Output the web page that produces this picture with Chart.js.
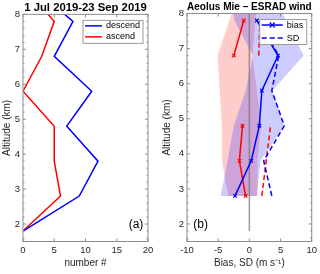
<!DOCTYPE html>
<html>
<head>
<meta charset="utf-8">
<script src="https://cdn.jsdelivr.net/npm/chart.js@4.4.1/dist/chart.umd.min.js"></script>
<style>
html, body { margin: 0; padding: 0; background: #fff; }
#wrap { position: relative; width: 320px; height: 274px; }
.panel { position: absolute; top: 0; width: 160px; height: 274px; }
</style>
</head>
<body>
<div id="wrap">
  <div class="panel" style="left:0"><canvas id="countChart" width="160" height="274"></canvas></div>
  <div class="panel" style="left:160px"><canvas id="biasChart" width="160" height="274"></canvas></div>
</div>
<script>
// panel (a): number of matches per altitude bin
const altitudes = [1.8, 2.8, 3.8, 4.8, 5.8, 6.8, 7.8, 8.8];
const descendCounts = [0, 9, 12, 7, 11, 5, 8, 1.3];
const ascendCounts = [0, 6, 5, 5, 0, 3, 5, 0];

// panel (b): bias and SD profiles
const profileAlt = [2.8, 3.8, 4.8, 5.8, 6.8, 7.8];
const descBias = [-2.3, 0.3, 1.6, 2.0, 4.6, 1.2];
const descSD = [3.6, 2.3, 5.6, 3.6, 4.7, 1.4];
const ascBias = [-0.6, -1.6, -1.1, null, -2.5, -0.9];
const ascSD = [2.0, 2.7, 3.4, null, 1.5, 1.7];

// shaded spread around the bias
const bandAlt = [2.8, 3.8, 4.8, 5.8, 6.8, 7.8, 8.8];
const descLow = [-4.6, -3.5, -2.5, -0.6, 0.6, -2.4, -3.0];
const descHigh = [1.2, 1.8, 5.6, 3.7, 8.7, 5.9, 3.0];
const ascLow = [-3.4, -4.4, -4.4, null, -5.1, -3.2, -1.3];
const ascHigh = [1.3, 1.3, 1.9, null, 0.5, 1.0, 1.5];

const zeroAlt = [1.8, 8.8];
const zeroVal = [0, 0];

const altTicks = [2, 3, 4, 5, 6, 7, 8];
const countTicks = [0, 5, 10, 15, 20];
const biasTicks = [-10, -5, 0, 5, 10];

Chart.defaults.font.family = "'Liberation Sans', Arial, sans-serif";
Chart.defaults.color = '#262626';

const toPoints = (xs, ys) => xs.map((v, i) => ({ x: v, y: ys[i] }));

const bandPoints = (lo, hi, ys) => {
    const pts = [];
    ys.forEach((y, i) => { if (lo[i] !== null) pts.push({ x: lo[i], y: y }); });
    for (let i = ys.length - 1; i >= 0; i--) {
        if (hi[i] !== null) pts.push({ x: hi[i], y: ys[i] });
    }
    return pts;
};

const makeScales = (xMin, xMax, xTicks, xTitle, yWidth) => ({
    x: {
        type: 'linear', min: xMin, max: xMax,
        afterBuildTicks: s => { s.ticks = xTicks.map(v => ({ value: v })); },
        afterFit: s => { s.height = 32.5; },
        grid: { display: false, drawTicks: false },
        border: { display: false },
        ticks: { padding: 3, maxRotation: 0, font: { size: 9.5 } },
        title: { display: true, text: xTitle, font: { size: 10 }, padding: { top: 0, bottom: 5 } }
    },
    y: {
        type: 'linear', min: 1.5, max: 8,
        afterBuildTicks: s => { s.ticks = altTicks.map(v => ({ value: v })); },
        afterFit: s => { s.width = yWidth; },
        grid: { display: false, drawTicks: false },
        border: { display: false },
        ticks: { padding: 3, font: { size: 9.5 } },
        title: { display: true, text: 'Altitude (km)', font: { size: 10 }, padding: { top: 1, bottom: 0 } }
    }
});

// box round the axes with inward ticks
const frameTicks = {
    id: 'frameTicks',
    afterDatasetsDraw(chart, args, opts) {
        const { ctx, chartArea: a, scales: { x, y } } = chart;
        ctx.save();
        ctx.strokeStyle = '#8c8c8c';
        ctx.lineWidth = 1;
        ctx.strokeRect(a.left, a.top, a.width, a.height);
        ctx.beginPath();
        opts.xTicks.forEach(v => {
            const px = x.getPixelForValue(v);
            ctx.moveTo(px, a.bottom); ctx.lineTo(px, a.bottom - 3);
            ctx.moveTo(px, a.top); ctx.lineTo(px, a.top + 3);
        });
        for (let k = 8; k <= 40; k++) {
            const py = y.getPixelForValue(k / 5);
            const len = k % 5 === 0 ? 3 : 1.5;
            ctx.moveTo(a.left, py); ctx.lineTo(a.left + len, py);
            ctx.moveTo(a.right, py); ctx.lineTo(a.right - len, py);
        }
        ctx.stroke();
        ctx.restore();
    }
};

// legend box inside the axes and the panel letter
const insideLegend = {
    id: 'insideLegend',
    afterDraw(chart, args, opts) {
        const { ctx, chartArea: a } = chart;
        ctx.save();
        const bx = a.right - 5 - opts.width;
        const by = a.top + 6;
        ctx.fillStyle = '#fff';
        ctx.fillRect(bx, by, opts.width, opts.height);
        ctx.strokeStyle = '#9a9a9a';
        ctx.lineWidth = 1;
        ctx.strokeRect(bx, by, opts.width, opts.height);
        opts.items.forEach((item, i) => {
            const ds = chart.data.datasets[item.index];
            const ly = by + opts.rowTop + i * opts.rowGap;
            ctx.strokeStyle = ds.borderColor;
            ctx.lineWidth = ds.borderWidth;
            ctx.setLineDash(ds.borderDash || []);
            ctx.beginPath();
            ctx.moveTo(bx + 2, ly);
            ctx.lineTo(bx + 2 + opts.lineLen, ly);
            ctx.stroke();
            ctx.setLineDash([]);
            if (ds.pointRadius > 0) {
                const mx = bx + 2 + opts.lineLen / 2;
                ctx.lineWidth = 1.2;
                ctx.beginPath();
                ctx.moveTo(mx - 2.5, ly - 2.5); ctx.lineTo(mx + 2.5, ly + 2.5);
                ctx.moveTo(mx - 2.5, ly + 2.5); ctx.lineTo(mx + 2.5, ly - 2.5);
                ctx.stroke();
            }
            ctx.fillStyle = '#000';
            ctx.font = "9px 'Liberation Sans', Arial, sans-serif";
            ctx.textBaseline = 'middle';
            ctx.textAlign = 'left';
            ctx.fillText(ds.label, bx + opts.lineLen + 6, ly);
        });
        ctx.font = "12px 'Liberation Sans', Arial, sans-serif";
        ctx.fillStyle = '#000';
        ctx.textAlign = 'center';
        ctx.textBaseline = 'middle';
        const tx = opts.tag.fromLeft ? a.left + opts.tag.dx : a.right - opts.tag.dx;
        ctx.fillText(opts.tag.text, tx, a.bottom - 16.5);
        ctx.restore();
    }
};

const lineSet = (label, data, color, extra) => Object.assign({
    label: label,
    data: data,
    borderColor: color,
    backgroundColor: color,
    borderWidth: 1.5,
    pointRadius: 0,
    fill: false,
    tension: 0
}, extra || {});

new Chart(document.getElementById('countChart'), {
    type: 'line',
    data: {
        datasets: [
            lineSet('descend', toPoints(descendCounts, altitudes), '#0000ff'),
            lineSet('ascend', toPoints(ascendCounts, altitudes), '#ff0000')
        ]
    },
    options: {
        responsive: false,
        animation: false,
        layout: { padding: { left: 0, right: 12, top: 0.8, bottom: 0 } },
        scales: makeScales(0, 20, countTicks, 'number #', 23),
        plugins: {
            legend: { display: false },
            tooltip: { enabled: false },
            title: {
                display: true, text: '1 Jul 2019-23 Sep 2019', fullSize: false,
                color: '#000', font: { size: 11.3, weight: 'bold' }, padding: 0
            },
            frameTicks: { xTicks: countTicks },
            insideLegend: {
                width: 60, height: 23, rowTop: 5.5, rowGap: 11, lineLen: 17,
                items: [{ index: 0 }, { index: 1 }],
                tag: { text: '(a)', fromLeft: false, dx: 12 }
            }
        }
    },
    plugins: [frameTicks, insideLegend]
});

new Chart(document.getElementById('biasChart'), {
    type: 'line',
    data: {
        datasets: [
            lineSet('bias', toPoints(descBias, profileAlt), '#0000ff',
                { order: 0, pointRadius: 2.5, pointStyle: 'crossRot', pointBorderWidth: 1.2 }),
            lineSet('SD', toPoints(descSD, profileAlt), '#0000ff', { order: 1, borderDash: [5, 3] }),
            lineSet('bias asc', toPoints(ascBias, profileAlt), '#ff0000',
                { order: 2, pointRadius: 2.5, pointStyle: 'crossRot', pointBorderWidth: 1.2 }),
            lineSet('SD asc', toPoints(ascSD, profileAlt), '#ff0000', { order: 3, borderDash: [5, 3] }),
            lineSet('zero', toPoints(zeroVal, zeroAlt), 'rgba(120,120,120,0.75)', { order: 4 }),
            {
                label: 'descend spread', order: 5,
                data: bandPoints(descLow, descHigh, bandAlt),
                borderWidth: 0, borderColor: 'rgba(0,0,0,0)', pointRadius: 0,
                backgroundColor: 'rgba(0,0,255,0.2)', fill: 'shape'
            },
            {
                label: 'ascend spread', order: 6,
                data: bandPoints(ascLow, ascHigh, bandAlt),
                borderWidth: 0, borderColor: 'rgba(0,0,0,0)', pointRadius: 0,
                backgroundColor: 'rgba(255,0,0,0.2)', fill: 'shape'
            }
        ]
    },
    options: {
        responsive: false,
        animation: false,
        layout: { padding: { left: 0, right: 8, top: 0.8, bottom: 0 } },
        scales: makeScales(-10, 10, biasTicks, 'Bias, SD (m s\u207B\u00B9)', 27),
        plugins: {
            legend: { display: false },
            tooltip: { enabled: false },
            title: {
                display: true, text: 'Aeolus Mie \u2013 ESRAD wind', fullSize: false,
                color: '#000', font: { size: 10.6, weight: 'bold' }, padding: 0
            },
            frameTicks: { xTicks: biasTicks },
            insideLegend: {
                width: 47, height: 25, rowTop: 5.5, rowGap: 13, lineLen: 21,
                items: [{ index: 0 }, { index: 1 }],
                tag: { text: '(b)', fromLeft: true, dx: 13.7 }
            }
        }
    },
    plugins: [frameTicks, insideLegend]
});
</script>
</body>
</html>
